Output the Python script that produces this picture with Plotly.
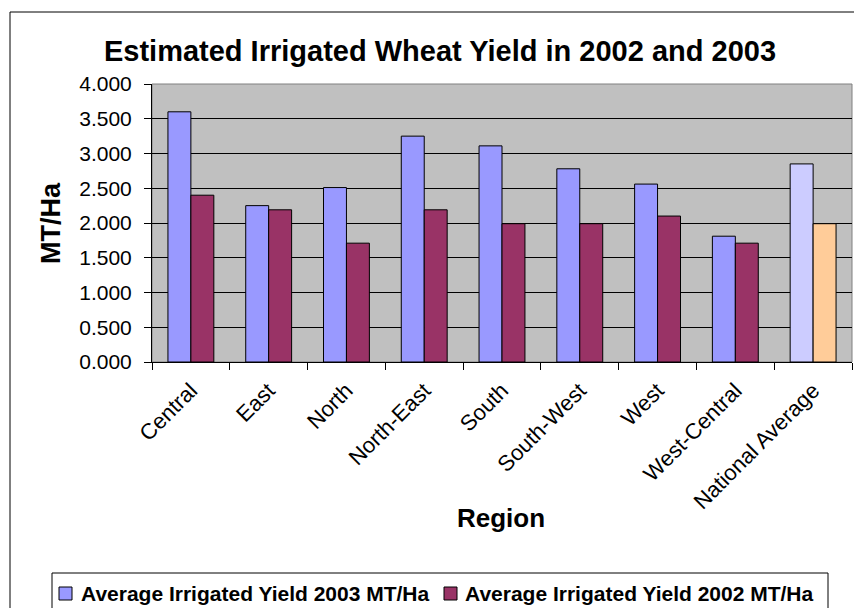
import plotly.graph_objects as go

regions = ["Central", "East", "North", "North-East", "South", "South-West",
           "West", "West-Central", "National Average"]
yield_2003 = [3.60, 2.25, 2.51, 3.25, 3.11, 2.78, 2.56, 1.81, 2.85]
yield_2002 = [2.40, 2.19, 1.71, 2.19, 1.99, 1.99, 2.10, 1.71, 1.99]
y_ticks = [0, 0.5, 1, 1.5, 2, 2.5, 3, 3.5, 4]
y_tick_labels = ["0.000", "0.500", "1.000", "1.500", "2.000", "2.500",
                 "3.000", "3.500", "4.000"]
series_names = ["Average Irrigated Yield 2003 MT/Ha",
                "Average Irrigated Yield 2002 MT/Ha"]
series_colors = ["#9999FF", "#993366"]

c2003 = [series_colors[0]] * 8 + ["#CCCCFF"]
c2002 = [series_colors[1]] * 8 + ["#FFCC99"]

FONT = "Liberation Sans, Arial, sans-serif"

fig = go.Figure()
fig.add_trace(go.Bar(
    x=regions, y=yield_2003, name=series_names[0],
    marker=dict(color=c2003, line=dict(color="#000000", width=1)),
))
fig.add_trace(go.Bar(
    x=regions, y=yield_2002, name=series_names[1],
    marker=dict(color=c2002, line=dict(color="#000000", width=1)),
))

W, H = 854, 608
L, R, T, B = 152, 2, 84, 246
pw, ph = W - L - R, H - T - B

def px_x(x):
    return (x - L) / pw

def px_y(y):
    return (H - B - y) / ph

fig.update_layout(
    width=W, height=H,
    margin=dict(l=L, r=R, t=T, b=B, pad=0),
    paper_bgcolor="white",
    plot_bgcolor="#C0C0C0",
    barmode="group",
    bargap=0.41,
    bargroupgap=0,
    font=dict(family=FONT, color="black"),
    showlegend=False,
    title=dict(
        text="<b>Estimated Irrigated Wheat Yield in 2002 and 2003</b>",
        x=440 / W, xanchor="center", xref="container",
        y=1 - 51 / H, yanchor="middle", yref="container",
        font=dict(size=29, family=FONT, color="black"),
    ),
    xaxis=dict(
        tickangle=-45,
        tickfont=dict(size=22, family=FONT),
        ticks="outside", ticklen=7, tickcolor="black",
        tickson="boundaries",
        ticklabelstandoff=6,
        showline=True, linecolor="black", linewidth=1,
        showgrid=False,
    ),
    yaxis=dict(
        range=[0, 4],
        tickmode="array", tickvals=y_ticks, ticktext=y_tick_labels,
        tickfont=dict(size=21, family=FONT),
        ticks="outside", ticklen=7, tickcolor="black",
        ticklabelstandoff=8,
        showline=True, linecolor="black", linewidth=1,
        showgrid=True, gridcolor="black", gridwidth=1,
        zeroline=False,
    ),
)

fig.add_annotation(
    text="<b>Region</b>", xref="paper", yref="paper",
    x=px_x(501), y=px_y(518), xanchor="center", yanchor="middle",
    showarrow=False, font=dict(size=26, family=FONT, color="black"),
)
fig.add_annotation(
    text="<b>MT/Ha</b>", xref="paper", yref="paper",
    x=px_x(51), y=px_y(223), xanchor="center", yanchor="middle",
    textangle=-90,
    showarrow=False, font=dict(size=27, family=FONT, color="black"),
)

# plot-area border (gray)
fig.add_shape(type="rect", xref="paper", yref="paper",
              x0=0, y0=0, x1=1, y1=1,
              line=dict(color="#808080", width=1), layer="below")
# outer chart frame
fig.add_shape(type="rect", xref="paper", yref="paper",
              x0=px_x(10), y0=px_y(630), x1=px_x(880), y1=px_y(12),
              line=dict(color="black", width=1))

# legend (drawn manually so it stays on one line like the reference)
fig.add_shape(type="rect", xref="paper", yref="paper",
              x0=px_x(52), y0=px_y(625), x1=px_x(828), y1=px_y(573),
              line=dict(color="black", width=1), fillcolor="white")
legend_sym_x = [59, 444]
legend_txt_x = [79, 463]
for name, col, sx, tx in zip(series_names, series_colors,
                             legend_sym_x, legend_txt_x):
    fig.add_shape(type="rect", xref="paper", yref="paper",
                  x0=px_x(sx), y0=px_y(600), x1=px_x(sx + 13), y1=px_y(587),
                  line=dict(color="black", width=1), fillcolor=col)
    fig.add_annotation(
        text="<b>" + name + "</b>", xref="paper", yref="paper",
        x=px_x(tx), y=px_y(593.5), xanchor="left", yanchor="middle",
        showarrow=False, font=dict(size=21, family=FONT, color="black"),
    )

fig.write_html("out.html")
